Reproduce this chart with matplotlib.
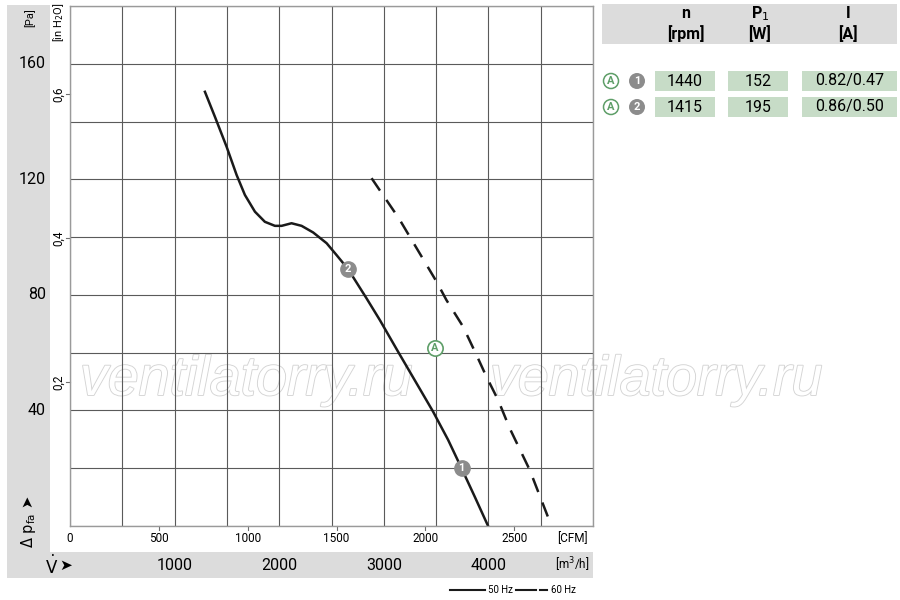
import matplotlib.pyplot as plt
import matplotlib.patheffects as pe
from matplotlib.patches import Rectangle, Circle

plt.rcParams['font.family'] = ['Roboto', 'DejaVu Sans']

# curve data: flow [m3/h], pressure [Pa]
flow_50 = [1290, 1385, 1497, 1593, 1672, 1768, 1863, 1959, 2023, 2118, 2214, 2325,
           2453, 2548, 2659, 2835, 2962, 3137, 3313, 3471, 3615, 3743, 3870, 3997]
pres_50 = [150.3, 141.7, 131.3, 121.5, 114.6, 108.8, 105.3, 103.9, 103.9, 104.8, 103.9, 101.6,
           97.9, 93.8, 88.9, 78.8, 71.3, 60.3, 49.4, 39.6, 29.8, 20.0, 10.1, 0]
flow_60 = [2883, 3144, 3249, 3504, 3599, 3758, 3886, 3981, 4093, 4204, 4395, 4603]
pres_60 = [120.4, 106.5, 100.1, 84.6, 78.2, 69.0, 59.2, 51.7, 43.6, 33.8, 19.4, 0]

# operating points
pt_labels = ['1', '2']
pt_flow = [3743, 2659]
pt_pres = [20.0, 88.9]
a_flow = 3488
a_pres = 61.5

pa_ticks = [40, 80, 120, 160]
inh2o_ticks = [0.2, 0.4, 0.6]
cfm_ticks = [0, 500, 1000, 1500, 2000, 2500]
m3h_ticks = [1000, 2000, 3000, 4000]

# table
col_head = ['n', 'P$_1$', 'I']
col_unit = ['[rpm]', '[W]', '[A]']
row_n = ['1440', '1415']
row_p = ['152', '195']
row_i = ['0.82/0.47', '0.86/0.50']

W, H = 900, 600
fig = plt.figure(figsize=(9, 6), dpi=100)

# overlay in pixel coords
bg = fig.add_axes([0, 0, 1, 1])
bg.set_xlim(0, W)
bg.set_ylim(H, 0)
bg.axis('off')

grey = '#dcdcdc'
bg.add_patch(Rectangle((7, 5), 43, 573, color=grey, lw=0))
bg.add_patch(Rectangle((7, 552), 586, 26, color=grey, lw=0))

# main axes
x0, x1, y0, y1 = 70, 593, 6, 526
ax = fig.add_axes([x0 / W, 1 - y1 / H, (x1 - x0) / W, (y1 - y0) / H])
ax.set_xlim(0, 5000)
ax.set_ylim(0, 180)
ax.set_xticks(range(0, 5001, 500))
ax.set_yticks(range(0, 181, 20))
ax.grid(True, color='#5a5a5a', lw=0.8)
ax.tick_params(length=0, labelleft=False, labelbottom=False)
for s in ax.spines.values():
    s.set_color('#9a9a9a')
    s.set_linewidth(1.0)
ax.set_axisbelow(True)

# watermark
for wx in [80, 490]:
    bg.text(wx, 381, 'ventilatorry.ru', fontsize=40, family='Liberation Sans', style='italic',
            color='white', va='center', ha='left', zorder=1,
            path_effects=[pe.withStroke(linewidth=1.3, foreground='#d4d4d4')])
ax.patch.set_alpha(0)
ax.set_zorder(2)

ax.plot(flow_50, pres_50, color='#1a1a1a', lw=1.8, solid_joinstyle='round')
ax.plot(flow_60, pres_60, color='#1a1a1a', lw=1.8, dashes=(6, 4.5))

for lab, fx, py in zip(pt_labels, pt_flow, pt_pres):
    ax.plot(fx, py, 'o', ms=11, color='#8c8c8c', mec='#8c8c8c', zorder=5)
    ax.text(fx, py, lab, color='white', fontsize=8, fontweight='bold',
            ha='center', va='center', zorder=6)
ax.plot(a_flow, a_pres, 'o', ms=11, mfc='white', mec='#5e9e68', mew=1.2, zorder=5)
ax.text(a_flow, a_pres, 'A', color='#5e9e68', fontsize=8, fontweight='bold',
        ha='center', va='center', zorder=6)

# y labels
px_per_pa = (y1 - y0) / 180
for v in pa_ticks:
    bg.text(46, y1 - v * px_per_pa, str(v), fontsize=11.5, ha='right', va='center')
bg.text(30, 18, '[Pa]', fontsize=8, rotation=90, ha='center', va='center')
for v in inh2o_ticks:
    yy = y1 - v * 249.09 * px_per_pa
    bg.text(59, yy, str(v).replace('.', ','), fontsize=8.5, rotation=90, ha='center', va='center')
    bg.plot([66, 70], [yy, yy], color='#6e6e6e', lw=0.8)
bg.text(59, 22, '[in H$_2$O]', fontsize=8, rotation=90, ha='center', va='center')
bg.text(29, 522, '$\\Delta$ p$_{\\rm fa}$ \u27a4', fontsize=10.5, rotation=90,
        ha='center', va='center', family=['DejaVu Sans'])

# x labels
px_per_m3 = (x1 - x0) / 5000
for v in cfm_ticks:
    xx = x0 + v * 1.699 * px_per_m3
    bg.text(xx, 539, str(v), fontsize=8.5, ha='center', va='center')
    if v > 0:
        bg.plot([xx, xx], [526, 530], color='#6e6e6e', lw=0.8)
bg.text(572, 539, '[CFM]', fontsize=8.5, ha='center', va='center')
for v in m3h_ticks:
    bg.text(x0 + v * px_per_m3, 565, str(v), fontsize=11.5, ha='center', va='center')
bg.text(572, 565, '[m$^3$/h]', fontsize=8.5, ha='center', va='center')
bg.text(52, 565, '$\\dot{\\rm V}$', fontsize=12, ha='center', va='center')
bg.text(66, 565, '\u27a4', fontsize=11, ha='center', va='center', family=['DejaVu Sans'])

# legend
bg.plot([450, 485], [590, 590], color='#1a1a1a', lw=1.5)
bg.text(488, 590, '50 Hz', fontsize=7, ha='left', va='center')
bg.plot([516, 536], [590, 590], color='#1a1a1a', lw=1.5)
bg.plot([540, 547], [590, 590], color='#1a1a1a', lw=1.5)
bg.text(551, 590, '60 Hz', fontsize=7, ha='left', va='center')

# table
bg.add_patch(Rectangle((602, 4), 295, 40, color=grey, lw=0))
col_x = [686, 760, 848]
for cx, h, u in zip(col_x, col_head, col_unit):
    bg.text(cx, 14, h, fontsize=11.5, fontweight='bold', ha='center', va='center')
    bg.text(cx, 34, u, fontsize=11.5, fontweight='bold', ha='center', va='center')
box_x = [(655, 60), (728, 60), (802, 95)]
green = '#c7dcc7'
for r, ry in enumerate([81, 107]):
    for (bx, bw), vals in zip(box_x, [row_n, row_p, row_i]):
        bg.add_patch(Rectangle((bx, ry - 10), bw, 20, color=green, lw=0))
        bg.text(bx + bw / 2, ry, vals[r], fontsize=11.5, ha='center', va='center')
    bg.add_patch(Circle((611, ry), 7.5, fc='white', ec='#5e9e68', lw=1.1))
    bg.text(611, ry, 'A', fontsize=8, color='#5e9e68', fontweight='bold', ha='center', va='center')
    bg.add_patch(Circle((637, ry), 8, fc='#8c8c8c', ec='none'))
    bg.text(637, ry, str(r + 1), fontsize=8, color='white', fontweight='bold', ha='center', va='center')

fig.savefig('out.png', dpi=100)
